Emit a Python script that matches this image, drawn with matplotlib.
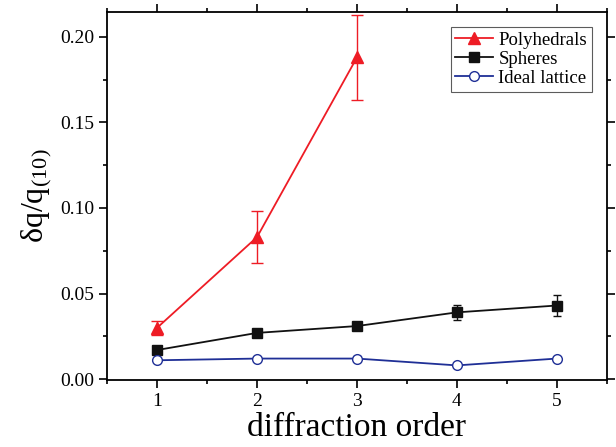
import matplotlib.pyplot as plt
from matplotlib.ticker import MultipleLocator

plt.rcParams['font.family'] = ['Liberation Serif', 'DejaVu Serif']
plt.rcParams['mathtext.fontset'] = 'custom'
plt.rcParams['mathtext.rm'] = 'Liberation Serif'
plt.rcParams['mathtext.it'] = 'Liberation Serif'

order = [1, 2, 3, 4, 5]

poly_x = [1, 2, 3]
poly_y = [0.030, 0.083, 0.188]
poly_err = [0.004, 0.015, 0.025]

sph_y = [0.017, 0.027, 0.031, 0.039, 0.043]
sph_err = [0.0005, 0.001, 0.002, 0.0044, 0.006]

ideal_y = [0.011, 0.012, 0.012, 0.008, 0.012]
ideal_err = [0.0005, 0.001, 0.0015, 0.0005, 0.001]

fig = plt.figure(figsize=(6.16, 4.47), dpi=100)
ax = fig.add_axes([0.174, 0.150, 0.811, 0.823])

p = ax.errorbar(poly_x, poly_y, yerr=poly_err, color='#ee1c25', marker='^', ms=9,
                lw=1.3, capsize=4, elinewidth=1.0)
s = ax.errorbar(order, sph_y, yerr=sph_err, color='#111111', marker='s', ms=7,
                lw=1.3, capsize=3, elinewidth=1.0)
i = ax.errorbar(order, ideal_y, yerr=ideal_err, color='#1f2f96', marker='o', ms=7,
                mfc='white', lw=1.3, capsize=3, elinewidth=1.0)

ax.set_xlim(0.5, 5.5)
ax.set_ylim(-0.0005, 0.2145)
ax.xaxis.set_major_locator(MultipleLocator(1))
ax.xaxis.set_minor_locator(MultipleLocator(0.5))
ax.yaxis.set_major_locator(MultipleLocator(0.05))
ax.yaxis.set_minor_locator(MultipleLocator(0.025))
ax.yaxis.set_major_formatter(plt.FormatStrFormatter('%.2f'))

ax.tick_params(which='both', direction='out', top=True, right=True, width=1.2)
ax.tick_params(which='major', length=6, labelsize=14)
ax.tick_params(which='minor', length=3)
for sp in ax.spines.values():
    sp.set_linewidth(1.3)

ax.set_xlabel('diffraction order', fontsize=24, labelpad=2)
ax.set_ylabel(r'$\mathrm{\delta q/q_{(10)}}$', fontsize=23)

leg = ax.legend([p[0], s[0], i[0]], ['Polyhedrals', 'Spheres', 'Ideal lattice'],
                loc='upper right', fontsize=13.5, frameon=True, fancybox=False,
                edgecolor='#333333', handlelength=2.0, borderpad=0.25,
                labelspacing=0.1, handletextpad=0.3, borderaxespad=0.8)
leg.get_frame().set_linewidth(0.8)

plt.savefig('out.png', dpi=100)
